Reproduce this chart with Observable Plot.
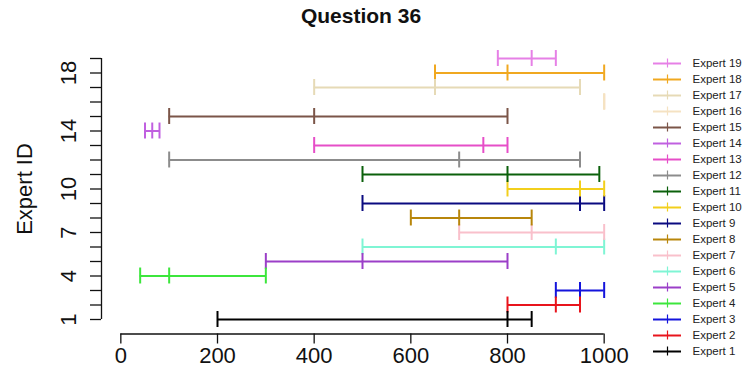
<!DOCTYPE html>
<html>
<head>
<meta charset="utf-8">
<script src="https://cdn.jsdelivr.net/npm/d3@7"></script>
<script src="https://cdn.jsdelivr.net/npm/@observablehq/plot@0.6"></script>
<style>
  html, body { margin: 0; padding: 0; background: #fff; }
  #wrap { position: relative; width: 749px; height: 378px; overflow: hidden; font-family: "Liberation Sans", Arial, sans-serif; }
  #title { position: absolute; left: 0; top: 4px; width: 722px; text-align: center; font-weight: bold; font-size: 21px; color: #111; }
  #main { position: absolute; left: 0; top: 0; }
  #legend { position: absolute; left: 640px; top: 0; }
</style>
</head>
<body>
<div id="wrap">
  <div id="main"></div>
  <div id="legend"></div>
  <div id="title">Question 36</div>
</div>
<script>
const ids    = [1, 2, 3, 4, 5, 6, 7, 8, 9, 10, 11, 12, 13, 14, 15, 16, 17, 18, 19];
const names  = ids.map(i => "Expert " + i);
const lows   = [200, 800, 900,  40, 300,  500,  700, 600,  500,  800, 500, 100, 400, 50, 100, 1000, 400,  650, 780];
const mids   = [800, 900, 950, 100, 500,  900,  850, 700,  950,  950, 800, 700, 750, 65, 400, 1000, 650,  800, 850];
const highs  = [850, 950, 1000, 300, 800, 1000, 1000, 850, 1000, 1000, 990, 950, 800, 80, 800, 1000, 950, 1000, 900];
const colors = ["#000000", "#E8141C", "#1414DC", "#3CE63C", "#9B3FC8", "#7FF5D4", "#F9C0CB", "#B8860B", "#0A0A80", "#F2CF1C",
                "#0B600B", "#8C8C8C", "#E64EC8", "#C060E0", "#7B5548", "#F5E2C2", "#E6DAB6", "#F0A820", "#E680E6"];
const xTicks = [0, 200, 400, 600, 800, 1000];
const yTicks = [1, 2, 3, 4, 5, 6, 7, 8, 9, 10, 11, 12, 13, 14, 15, 16, 17, 18, 19];
const yLabels = [1, 4, 7, 10, 14, 18];

const experts = ids.map((id, i) => ({id, name: names[i], lo: lows[i], mid: mids[i], hi: highs[i], color: colors[i]}));

const axisColor = "#111";
const capHalf = 0.55;

const main = Plot.plot({
  width: 749, height: 378,
  marginLeft: 101, marginRight: 126, marginTop: 43.5, marginBottom: 44.5,
  x: {domain: [-40, 1040]},
  y: {domain: [0, 20]},
  color: {type: "identity"},
  style: {fontFamily: "'Liberation Sans', Arial, sans-serif", background: "white", color: "#111"},
  marks: [
    Plot.ruleY([0], {x1: xTicks[0], x2: xTicks[xTicks.length - 1], stroke: axisColor, strokeWidth: 1.3}),
    Plot.axisX(xTicks, {tickSize: 10, tickPadding: 3, fontSize: 22, tickFormat: d => String(d), label: null, stroke: axisColor, strokeWidth: 1.3}),
    Plot.ruleX([-40], {y1: yTicks[0], y2: yTicks[yTicks.length - 1], stroke: axisColor, strokeWidth: 1.3}),
    Plot.axisY(yTicks, {tickSize: 11, tickFormat: () => "", label: null, stroke: axisColor, strokeWidth: 1.3}),
    Plot.text(yLabels, {x: -40, y: d => d, text: d => String(d), rotate: -90, dx: -33, fontSize: 22, fill: "#111"}),
    Plot.text(["Expert ID"], {frameAnchor: "left", textAnchor: "middle", dx: -77, rotate: -90, fontSize: 22, fill: "#111"}),
    Plot.ruleY(experts, {y: "id", x1: "lo", x2: "hi", stroke: "color", strokeWidth: 2}),
    Plot.ruleX(experts, {x: "lo", y1: d => d.id - capHalf, y2: d => d.id + capHalf, stroke: "color", strokeWidth: 2}),
    Plot.ruleX(experts, {x: "mid", y1: d => d.id - capHalf, y2: d => d.id + capHalf, stroke: "color", strokeWidth: 2}),
    Plot.ruleX(experts, {x: "hi", y1: d => d.id - capHalf, y2: d => d.id + capHalf, stroke: "color", strokeWidth: 2})
  ]
});
document.getElementById("main").appendChild(main);

const legend = Plot.plot({
  width: 109, height: 378,
  marginLeft: 0, marginRight: 0, marginTop: 52.5, marginBottom: 15.8,
  x: {domain: [640, 749], axis: null},
  y: {type: "band", domain: names.slice().reverse(), padding: 0, axis: null},
  color: {type: "identity"},
  style: {fontFamily: "'Liberation Sans', Arial, sans-serif", background: "transparent"},
  marks: [
    Plot.ruleY(experts, {y: "name", x1: 653, x2: 681, stroke: "color", strokeWidth: 2}),
    Plot.tickX(experts, {y: "name", x: 667, stroke: "color", strokeWidth: 1.2, insetTop: 3.5, insetBottom: 3.5}),
    Plot.text(experts, {y: "name", x: 692, text: "name", textAnchor: "start", fontSize: 11.5, fill: "#222"})
  ]
});
document.getElementById("legend").appendChild(legend);
</script>
</body>
</html>
